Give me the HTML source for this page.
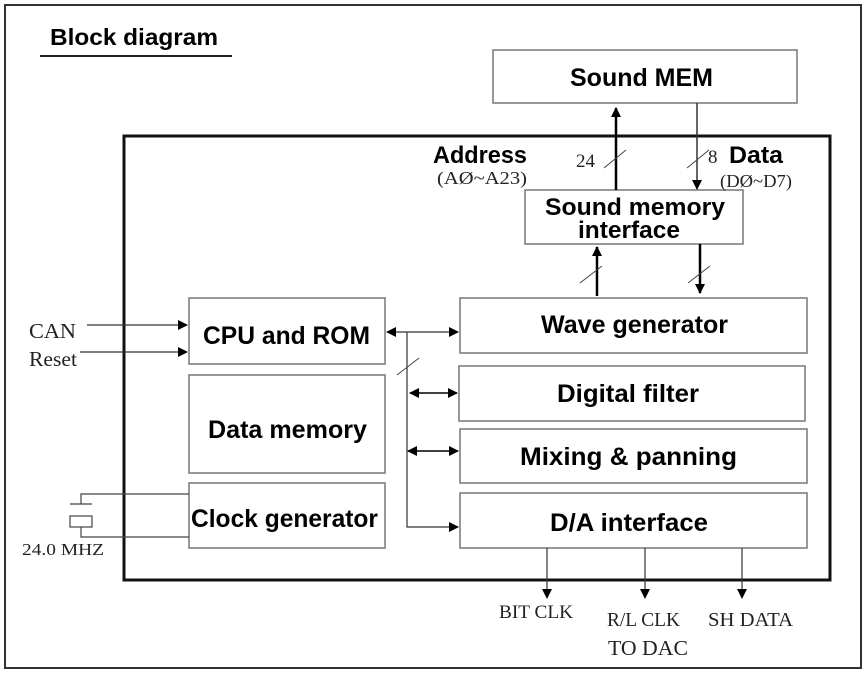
<!DOCTYPE html>
<html><head><meta charset="utf-8"><style>
html,body{margin:0;padding:0;background:#fff;}
svg{display:block;}
.b{font-family:"Liberation Sans","NanumGothic",sans-serif;font-weight:bold;fill:#000;}
.s{font-family:"Liberation Serif",serif;fill:#222;}
</style></head><body>
<svg width="867" height="673" viewBox="0 0 867 673" xmlns="http://www.w3.org/2000/svg">
<defs>
<marker id="a" markerWidth="10" markerHeight="10" refX="9" refY="5" orient="auto" markerUnits="userSpaceOnUse"><path d="M0,0 L10,5 L0,10 z" fill="#000"/></marker>
<marker id="as" markerWidth="10" markerHeight="10" refX="1" refY="5" orient="auto" markerUnits="userSpaceOnUse"><path d="M10,0 L0,5 L10,10 z" fill="#000"/></marker>
</defs>
<rect x="5" y="5" width="856" height="663" fill="none" stroke="#333" stroke-width="2"/>
<text class="b" x="50" y="45" font-size="23" textLength="168" lengthAdjust="spacingAndGlyphs">Block diagram</text>
<line x1="40" y1="56" x2="232" y2="56" stroke="#222" stroke-width="2"/>
<rect x="124" y="136" width="706" height="444" fill="none" stroke="#111" stroke-width="3"/>

<rect x="493" y="50" width="304" height="53" fill="#fff" stroke="#777" stroke-width="1.5"/>
<text class="b" x="570" y="86" font-size="25" textLength="143" lengthAdjust="spacingAndGlyphs">Sound MEM</text>
<rect x="525" y="190" width="218" height="54" fill="#fff" stroke="#777" stroke-width="1.5"/>
<text class="b" x="545" y="215" font-size="24" textLength="180" lengthAdjust="spacingAndGlyphs">Sound memory</text>
<text class="b" x="578" y="238" font-size="24" textLength="102" lengthAdjust="spacingAndGlyphs">interface</text>

<line x1="616" y1="190" x2="616" y2="108" stroke="#000" stroke-width="2.5" marker-end="url(#a)"/>
<line x1="697" y1="103" x2="697" y2="189" stroke="#333" stroke-width="1.5" marker-end="url(#a)"/>
<line x1="604" y1="168" x2="626" y2="150" stroke="#444" stroke-width="1"/>
<line x1="687" y1="168" x2="709" y2="150" stroke="#444" stroke-width="1"/>
<text class="s" x="576" y="167" font-size="19">24</text>
<text class="s" x="708" y="163" font-size="19">8</text>
<text class="b" x="433" y="163" font-size="24" textLength="94" lengthAdjust="spacingAndGlyphs">Address</text>
<text class="s" x="437" y="184" font-size="18" textLength="90" lengthAdjust="spacingAndGlyphs">(AØ~A23)</text>
<text class="b" x="729" y="163" font-size="24" textLength="54" lengthAdjust="spacingAndGlyphs">Data</text>
<text class="s" x="720" y="187" font-size="18" textLength="72" lengthAdjust="spacingAndGlyphs">(DØ~D7)</text>

<line x1="597" y1="296" x2="597" y2="247" stroke="#000" stroke-width="2.5" marker-end="url(#a)"/>
<line x1="700" y1="244" x2="700" y2="293" stroke="#000" stroke-width="2.5" marker-end="url(#a)"/>
<line x1="580" y1="283" x2="602" y2="266" stroke="#444" stroke-width="1"/>
<line x1="688" y1="283" x2="710" y2="266" stroke="#444" stroke-width="1"/>

<rect x="189" y="298" width="196" height="66" fill="#fff" stroke="#777" stroke-width="1.5"/>
<text class="b" x="203" y="344" font-size="25" textLength="167" lengthAdjust="spacingAndGlyphs">CPU and ROM</text>
<rect x="189" y="375" width="196" height="98" fill="#fff" stroke="#777" stroke-width="1.5"/>
<text class="b" x="208" y="438" font-size="25" textLength="159" lengthAdjust="spacingAndGlyphs">Data memory</text>
<rect x="189" y="483" width="196" height="65" fill="#fff" stroke="#777" stroke-width="1.5"/>
<text class="b" x="191" y="527" font-size="25" textLength="187" lengthAdjust="spacingAndGlyphs">Clock generator</text>

<rect x="460" y="298" width="347" height="55" fill="#fff" stroke="#777" stroke-width="1.5"/>
<text class="b" x="541" y="333" font-size="25" textLength="187" lengthAdjust="spacingAndGlyphs">Wave generator</text>
<rect x="459" y="366" width="346" height="55" fill="#fff" stroke="#777" stroke-width="1.5"/>
<text class="b" x="557" y="402" font-size="25" textLength="142" lengthAdjust="spacingAndGlyphs">Digital filter</text>
<rect x="460" y="429" width="347" height="54" fill="#fff" stroke="#777" stroke-width="1.5"/>
<text class="b" x="520" y="465" font-size="25" textLength="217" lengthAdjust="spacingAndGlyphs">Mixing &amp; panning</text>
<rect x="460" y="493" width="347" height="55" fill="#fff" stroke="#777" stroke-width="1.5"/>
<text class="b" x="550" y="531" font-size="25" textLength="158" lengthAdjust="spacingAndGlyphs">D/A interface</text>

<line x1="87" y1="325" x2="187" y2="325" stroke="#333" stroke-width="1.2" marker-end="url(#a)"/>
<line x1="80" y1="352" x2="187" y2="352" stroke="#333" stroke-width="1.2" marker-end="url(#a)"/>
<text class="s" x="29" y="338" font-size="21" textLength="47" lengthAdjust="spacingAndGlyphs">CAN</text>
<text class="s" x="29" y="366" font-size="21" textLength="48" lengthAdjust="spacingAndGlyphs">Reset</text>

<line x1="387" y1="332" x2="458" y2="332" stroke="#333" stroke-width="1.2" marker-start="url(#as)" marker-end="url(#a)"/>
<polyline points="407,332 407,527 458,527" fill="none" stroke="#333" stroke-width="1.2" marker-end="url(#a)"/>
<line x1="397" y1="375" x2="419" y2="358" stroke="#444" stroke-width="1"/>
<line x1="410" y1="393" x2="457" y2="393" stroke="#000" stroke-width="1.5" marker-start="url(#as)" marker-end="url(#a)"/>
<line x1="408" y1="451" x2="458" y2="451" stroke="#000" stroke-width="1.5" marker-start="url(#as)" marker-end="url(#a)"/>

<polyline points="189,494 81,494 81,504" fill="none" stroke="#444" stroke-width="1.2"/>
<line x1="70" y1="504" x2="92" y2="504" stroke="#444" stroke-width="1.2"/>
<rect x="70" y="516" width="22" height="11" fill="none" stroke="#444" stroke-width="1.2"/>
<polyline points="81,527 81,537 189,537" fill="none" stroke="#444" stroke-width="1.2"/>
<text class="s" x="22" y="555" font-size="17" textLength="82" lengthAdjust="spacingAndGlyphs">24.0 MHZ</text>

<line x1="547" y1="548" x2="547" y2="598" stroke="#333" stroke-width="1.2" marker-end="url(#a)"/>
<line x1="645" y1="548" x2="645" y2="598" stroke="#333" stroke-width="1.2" marker-end="url(#a)"/>
<line x1="742" y1="548" x2="742" y2="598" stroke="#333" stroke-width="1.2" marker-end="url(#a)"/>
<text class="s" x="499" y="618" font-size="19" textLength="74" lengthAdjust="spacingAndGlyphs">BIT CLK</text>
<text class="s" x="607" y="626" font-size="20" textLength="73" lengthAdjust="spacingAndGlyphs">R/L CLK</text>
<text class="s" x="708" y="626" font-size="20" textLength="85" lengthAdjust="spacingAndGlyphs">SH DATA</text>
<text class="s" x="608" y="655" font-size="21" textLength="80" lengthAdjust="spacingAndGlyphs">TO DAC</text>
</svg>
</body></html>
